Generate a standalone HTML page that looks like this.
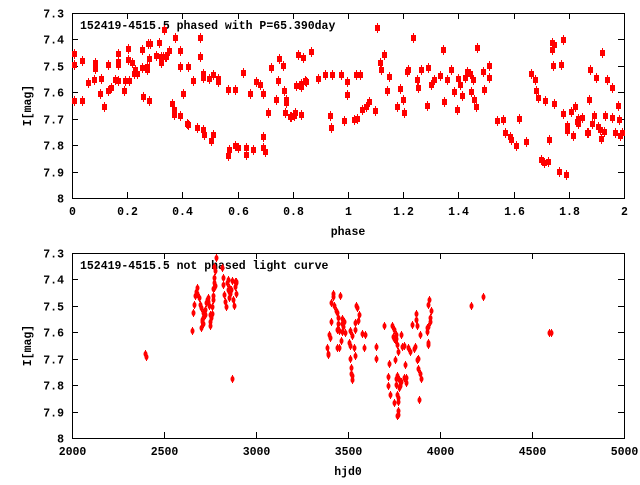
<!DOCTYPE html>
<html><head><meta charset="utf-8"><style>
html,body{margin:0;padding:0;background:#fff;}
svg text{font-family:"Liberation Mono",monospace;font-weight:bold;font-size:11.5px;fill:#000;}
</style></head><body>
<svg id="s" width="640" height="480" xmlns="http://www.w3.org/2000/svg"></svg>
<script>
var s=document.getElementById('s'),h='';
function frame(top,bot,xt,xl,yl,title){
 var L=72,R=624;
 h+='<rect x="'+L+'.5" y="'+top+'.5" width="'+(R-L)+'" height="'+(bot-top)+'" fill="none" stroke="#000"/>';
 var labs=['7.3','7.4','7.5','7.6','7.7','7.8','7.9','8'];
 for(var i=0;i<8;i++){var y=top+(bot-top)*i/7;y=Math.round(y)+.5;
  h+='<line x1="'+L+'" y1="'+y+'" x2="'+(L+6)+'" y2="'+y+'" stroke="#000"/><line x1="'+R+'" y1="'+y+'" x2="'+(R-6)+'" y2="'+y+'" stroke="#000"/>';
  h+='<text x="64" y="'+(y+4)+'" text-anchor="end">'+labs[i]+'</text>';}
 for(var i=0;i<xt.length;i++){var x=Math.round(L+(R-L)*i/(xt.length-1))+.5;
  h+='<line x1="'+x+'" y1="'+top+'" x2="'+x+'" y2="'+(top+6)+'" stroke="#000"/><line x1="'+x+'" y1="'+bot+'" x2="'+x+'" y2="'+(bot-6)+'" stroke="#000"/>';
  h+='<text x="'+x+'" y="'+(bot+17)+'" text-anchor="middle">'+xt[i]+'</text>';}
 h+='<text x="348" y="'+(bot+37)+'" text-anchor="middle">'+xl+'</text>';
 var cy=(top+bot)/2;
 h+='<text x="31" y="'+cy+'" text-anchor="middle" transform="rotate(-90 31 '+cy+')">I[mag]</text>';
 h+='<text x="80" y="'+(top+16)+'">'+title+'</text>';
}
frame(13,198,['0','0.2','0.4','0.6','0.8','1','1.2','1.4','1.6','1.8','2'],'phase','I[mag]','152419-4515.5 phased with P=65.390day');
frame(253,438,['2000','2500','3000','3500','4000','4500','5000'],'hjd0','I[mag]','152419-4515.5 not phased light curve');
var A=[74,54,74,65,74,101,82,61,82,101,88,83,95,63,95,69,94,80,100,94,101,79,104,107,108,65,108,91,111,88,115,80,118,54,118,62,118,65,118,81,124,91,125,81,128,49,128,60,129,81,132,63,134,74,135,70,137,74,142,68,142,50,143,97,147,67,147,70,149,59,149,101,148,44,150,44,156,56,159,43,161,63,163,57,161,57,165,57,164,30,166,57,169,51,172,104,174,115,174,110,175,38,180,51,180,67,180,116,183,94,187,124,188,67,188,125,193,81,197,128,200,38,200,57,203,130,203,78,204,135,203,74,209,79,211,141,213,135,213,75,218,79,218,82,229,150,228,156,228,90,235,90,235,146,238,148,243,73,246,155,246,148,250,94,256,82,253,150,260,85,263,148,263,137,265,152,268,113,263,94,271,68,276,100,278,81,279,59,284,91,283,66,285,113,286,103,286,100,290,117,291,117,294,116,296,86,295,113,298,55,301,115,301,84,303,58,301,87,306,82,305,81,311,52,318,79,325,75,330,116,332,75,331,128,341,75,344,121,347,82,347,95,354,120,356,75,357,119,
360,75,362,110,366,107,369,102,375,111,377,28,380,63,381,70,384,55,387,91,389,77,397,107,400,89,403,100,404,113,407,72,408,70,413,38,417,80,418,88,421,70,427,106,428,68,431,85,434,80,440,76,443,50,444,102,447,80,451,70,454,92,457,110,458,79,460,85,462,96,465,78,467,72,470,74,471,92,473,80,474,100,476,107,477,48,483,72,484,90,489,66,489,78,497,121,503,120,505,133,510,137,511,140,516,146,519,119,526,142,531,74,535,80,536,91,538,98,541,160,544,163,545,101,548,162,549,140,552,50,552,43,553,66,554,45,554,104,559,172,561,65,563,40,563,114,566,175,567,126,567,131,571,112,573,136,575,107,577,122,578,124,578,119,582,118,587,133,589,100,588,133,590,70,592,124,594,116,596,78,598,127,600,130,601,139,602,53,604,132,605,116,607,80,612,88,612,118,615,133,618,106,619,120,620,136,622,133];
for(var i=0;i<A.length;i+=2){h+='<rect x="'+(A[i]-2)+'" y="'+(A[i+1]-3)+'" width="5" height="6" fill="#f00"/><line x1="'+(A[i]+.5)+'" y1="'+(A[i+1]-5)+'" x2="'+(A[i]+.5)+'" y2="'+(A[i+1]+5)+'" stroke="#f00"/>';}
var B=[146,357,145,354,192,331,193,313,194,305,195,296,196,292,197,288,197,294,199,298,200,305,201,308,202,320,202,322,203,324,201,328,203,318,203,313,205,310,205,315,206,303,207,300,208,298,208,302,209,306,210,315,210,322,210,326,211,318,212,314,212,307,213,300,213,296,213,289,214,283,214,278,215,271,214,267,214,288,216,258,215,286,222,268,223,285,223,278,224,295,225,302,226,307,227,283,228,280,229,288,228,290,229,298,229,292,230,294,231,290,232,281,233,300,234,306,236,283,232,379,235,282,235,287,236,294,236,282,
333,294,333,297,331,303,334,306,336,311,337,313,338,318,342,319,344,322,342,324,343,327,345,333,342,332,339,331,337,330,338,324,331,322,329,335,330,338,327,348,328,354,328,355,340,296,356,306,357,308,359,315,358,321,355,323,355,330,350,331,352,336,362,334,365,335,349,343,350,346,341,341,339,348,337,348,354,348,364,348,355,356,350,359,351,368,351,374,352,376,352,380,376,347,376,359,392,326,393,337,394,339,395,340,396,335,397,345,398,352,395,360,397,376,396,379,396,385,397,395,398,398,398,402,398,411,398,415,397,416,384,326,394,330,396,339,389,364,388,377,388,386,390,395,394,403,399,380,400,386,401,382,399,388,404,378,406,378,406,383,401,335,402,347,404,346,405,365,408,348,410,352,412,325,414,349,415,347,417,360,418,359,418,369,420,374,421,379,416,314,416,320,417,326,420,335,427,328,428,343,428,345,430,322,430,318,427,332,428,327,431,311,428,305,429,300,419,400,471,306,483,297,549,333,551,333];
for(var i=0;i<B.length;i+=2){h+='<ellipse cx="'+(B[i]+.5)+'" cy="'+B[i+1]+'" rx="2" ry="3" fill="#f00"/><line x1="'+(B[i]+.5)+'" y1="'+(B[i+1]-4)+'" x2="'+(B[i]+.5)+'" y2="'+(B[i+1]+4)+'" stroke="#f00"/>';}
s.innerHTML=h;
</script>
</body></html>
